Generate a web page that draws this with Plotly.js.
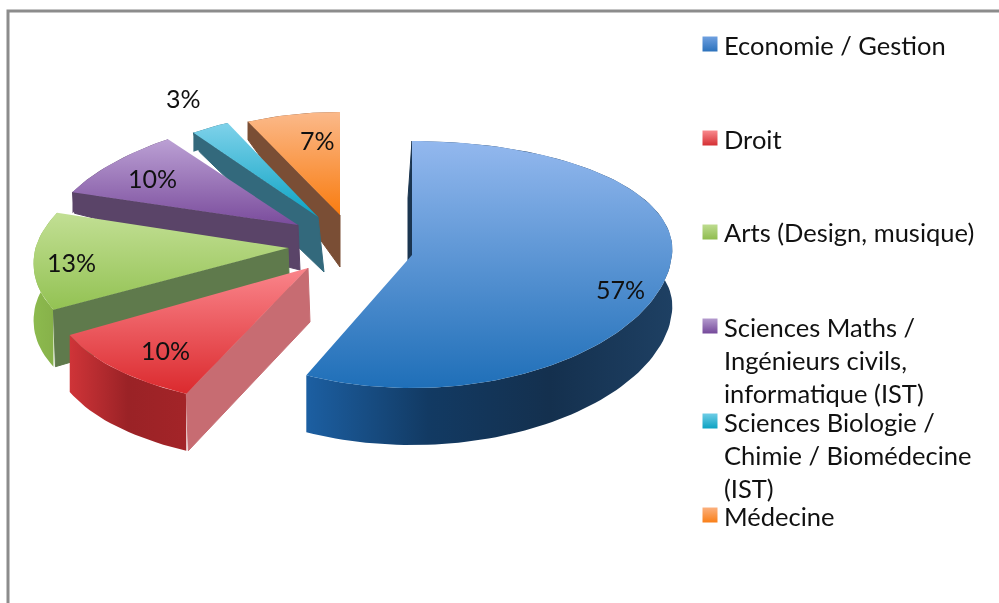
<!DOCTYPE html>
<html><head><meta charset="utf-8">
<script src="https://cdn.plot.ly/plotly-3.0.1.min.js"></script>
<style>html,body{margin:0;padding:0;background:#fff}#c{width:999px;height:603px;filter:blur(0.5px)}</style>
</head><body><div id="c"></div>
<script>
// Data
const categories = ["Economie / Gestion","Droit","Arts (Design, musique)",
  "Sciences Maths /<br>Ingénieurs civils,<br>informatique (IST)",
  "Sciences Biologie /<br>Chimie / Biomédecine<br>(IST)","Médecine"];
const shares = [57,10,13,10,3,7];

// Tilted, exploded slice geometry (page-sized axes)
const cx      = [412,308,288,298,318,340];
const cy      = [255,268,248,225,217,215];
const rxBack  = [273,223,221,215,212,216];
const rxFront = [247,289,284,279,212,216];
const ryBack  = [114,139,114,106,104,103];
const ryFront = [133,139,128,106,104,103];
const depthIn  = [55,54,50,45,55,52];
const depthOut = [57,57,57,21,19,18];
const edgeDx   = [-4,2,2,2,6,0];

// Styles
const topColors  = [["#1F6FB8","#93B8EE"],["#DB2A2E","#FA858B"],["#93C253","#C2DF94"],["#7A4C9C","#BBA0D4"],["#0CA3C4","#7FD2EA"],["#F97C10","#FBB98A"]];
const edgeColors = ["#1B3550","#C76C72","#5F7A4C","#5A4468","#33697C","#7A4E35"];
const arcColors  = [["#1C5FA2","#123A63","#14304E","#1E4063"],["#CF3438","#9A2226","#A32428"],["#8CBA4E","#86B049"],["#5A4468","#5A4468"],["#33697C","#33697C"],["#7A4E35","#7A4E35"]];
const labelX = [620,165,71,152,183,317];
const labelY = [289,350,262,178,98,140];
const swatchX = [710,710,710,710,710,710];
const swatchY = [44,138,232,326,421,515];
const legendTextX = 723;
const legendTextY = [29,123,216,311,406,500];
const swatchColors = [["#6FA0E0","#2C72BC"],["#F98A8E","#D52F33"],["#BEDC90","#8FBC4E"],["#B49BCE","#74489A"],["#6FCDE6","#0CA2C2"],["#FBB07E","#F97F18"]];
const fontFamily = "Lato, 'Open Sans', sans-serif";

function scale(stops){return stops.map((c,i)=>[i/(stops.length-1),c]);}
function pt(i,a,d){
  const s=Math.sin(a), c=Math.cos(a);
  const rx=rxBack[i]*(1+c)/2+rxFront[i]*(1-c)/2;
  const ry=c>=0?ryBack[i]:ryFront[i];
  return [cx[i]+rx*s, cy[i]-ry*c+(d||0)];
}
const total=shares.reduce((a,b)=>a+b,0);
let acc=0;
const sliceTraces=categories.map((name,i)=>{
  const a0=acc/total*2*Math.PI; acc+=shares[i];
  const a1=acc/total*2*Math.PI;
  const n=Math.max(8,Math.round(shares[i]*2));
  const arc=[],low=[];
  for(let k=0;k<=n;k++){const a=a0+(a1-a0)*k/n;arc.push(pt(i,a));low.push(pt(i,a,depthOut[i]));}
  const base={type:"scatter",mode:"lines",line:{width:0},fill:"toself",hoverinfo:"skip",showlegend:false};
  const start=pt(i,a0);
  const edge=Object.assign({},base,{name:name+" edge",
    x:[cx[i],start[0],start[0]+edgeDx[i],cx[i]+edgeDx[i],cx[i]],
    y:[cy[i],start[1],start[1]+depthOut[i],cy[i]+depthIn[i],cy[i]],
    line:{width:1,color:edgeColors[i]},
    fillcolor:edgeColors[i]});
  const wall=Object.assign({},base,{name:name+" wall",
    x:arc.map(p=>p[0]).concat(low.slice().reverse().map(p=>p[0])),
    y:arc.map(p=>p[1]).concat(low.slice().reverse().map(p=>p[1])),
    fillgradient:{type:"horizontal",colorscale:scale(arcColors[i])}});
  const top=Object.assign({},base,{name:name,
    x:[cx[i]].concat(arc.map(p=>p[0])).concat([cx[i]]),
    y:[cy[i]].concat(arc.map(p=>p[1])).concat([cy[i]]),
    fillgradient:{type:"vertical",colorscale:scale(topColors[i])},
    hoverinfo:"text",text:name+": "+shares[i]+"%",hoveron:"fills"});
  return [wall,edge,top];
});
// paint from the back slice to the front slice
const traces=[];
for(let i=sliceTraces.length-1;i>=0;i--) traces.push(...sliceTraces[i]);
categories.forEach((name,i)=>{
  traces.push({type:"scatter",mode:"markers",x:[swatchX[i]],y:[swatchY[i]],showlegend:false,hoverinfo:"skip",
    marker:{symbol:"square",size:15,color:swatchColors[i][0],gradient:{type:"vertical",color:swatchColors[i][1]},line:{width:0}}});
});
const annotations=[];
categories.forEach((name,i)=>{
  annotations.push({x:labelX[i],y:labelY[i],xref:"x",yref:"y",text:shares[i]+"%",showarrow:false,
    xanchor:"center",yanchor:"middle",font:{family:fontFamily,size:25,color:"#111"}});
  annotations.push({x:legendTextX,y:legendTextY[i],xref:"x",yref:"y",text:name,showarrow:false,align:"left",
    xanchor:"left",yanchor:"top",borderpad:0,font:{family:fontFamily,size:25.5,color:"#111"}});
});
Plotly.newPlot("c",traces,{
  width:999,height:603,margin:{l:0,r:0,t:0,b:0},
  paper_bgcolor:"#fff",plot_bgcolor:"#fff",showlegend:false,
  xaxis:{range:[0,999],visible:false,fixedrange:true},
  yaxis:{range:[603,0],visible:false,fixedrange:true},
  annotations:annotations,
  shapes:[{type:"rect",xref:"x",yref:"y",x0:8,x1:1010,y0:11,y1:640,line:{color:"#8c8c8c",width:3},fillcolor:"rgba(0,0,0,0)",layer:"below"}]
},{displayModeBar:false,staticPlot:false});
</script></body></html>
